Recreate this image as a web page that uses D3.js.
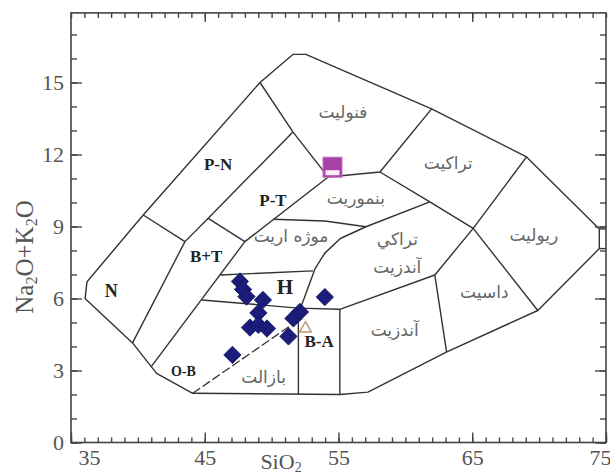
<!DOCTYPE html>
<html>
<head>
<meta charset="utf-8">
<script src="https://cdn.jsdelivr.net/npm/d3@7"></script>
<style>
  html, body { margin: 0; padding: 0; background: #fff; }
  svg { display: block; }
</style>
</head>
<body>
<svg id="chart" width="610" height="475"></svg>
<script>
// Axis ticks
const xTicks = [35, 45, 55, 65, 75];
const yTicks = [0, 3, 6, 9, 12, 15];

// Outer boundary of the classification field (SiO2, Na2O+K2O)
const outline = [
  [49.13, 15.0], [40.4, 9.48], [36.2, 6.7], [36.05, 6.0], [39.6, 4.15],
  [41.0, 3.16], [41.4, 2.88], [44.1, 2.05], [55.1, 2.0], [57.2, 2.1],
  [63.1, 3.78], [69.9, 5.5], [74.5, 8.08], [74.5, 8.9], [69.06, 11.9],
  [61.96, 13.9], [52.56, 16.17], [51.59, 16.17]
];

// Internal field boundaries
const boundaries = [
  [[40.4, 9.48], [43.52, 8.37]],
  [[43.52, 8.37], [39.6, 4.15]],
  [[43.52, 8.37], [45.26, 9.34], [51.59, 12.94]],
  [[49.13, 15.0], [51.59, 12.94], [54.23, 11.06]],
  [[45.26, 9.34], [48.0, 8.37]],
  [[48.0, 8.37], [54.23, 11.06]],
  [[48.0, 8.37], [41.0, 3.16]],
  [[54.23, 11.06], [58.1, 11.27], [61.96, 13.9]],
  [[58.1, 11.27], [61.83, 10.03], [65.07, 8.92]],
  [[65.07, 8.92], [69.06, 11.9]],
  [[65.07, 8.92], [69.9, 5.5]],
  [[65.07, 8.92], [62.2, 6.98], [63.08, 3.78]],
  [[62.2, 6.98], [55.1, 5.55], [52.0, 5.6], [44.79, 5.94]],
  [[52.0, 5.6], [52.0, 2.0]],
  [[55.1, 5.55], [55.1, 2.0]],
  [[46.17, 6.98], [53.1, 7.15]],
  [[52.15, 5.58], [53.24, 7.23], [53.96, 7.88], [55.14, 8.5], [57.05, 8.99], [61.83, 10.03]],
  [[50.1, 9.3], [53.98, 9.23], [57.05, 8.99]],
  [[74.5, 8.9], [75, 8.9]],
  [[74.5, 8.08], [75, 8.08]]
];
const dashedBoundary = [[44.1, 2.05], [52.0, 5.1]];

// Field names
const fieldLabels = [
  { t: "N", x: 38.0, y: 6.3, bold: true, size: 18 },
  { t: "P-N", x: 46.0, y: 11.6, bold: true, size: 17 },
  { t: "P-T", x: 50.1, y: 10.1, bold: true, size: 17 },
  { t: "B+T", x: 45.1, y: 7.75, bold: true, size: 17 },
  { t: "H", x: 51.0, y: 6.5, bold: true, size: 21 },
  { t: "B-A", x: 53.55, y: 4.2, bold: true, size: 17 },
  { t: "O-B", x: 43.4, y: 2.95, bold: true, size: 14 },
  { t: "بازالت", x: 49.4, y: 2.75 },
  { t: "موژه اریت", x: 51.45, y: 8.6 },
  { t: "بنموریت", x: 56.3, y: 10.2 },
  { t: "فنولیت", x: 55.33, y: 13.78 },
  { t: "تراکیت", x: 63.2, y: 11.63 },
  { t: "ریولیت", x: 69.6, y: 8.65 },
  { t: "تراکي", x: 59.4, y: 8.5 },
  { t: "آندزیت", x: 59.4, y: 7.3 },
  { t: "داسیت", x: 65.9, y: 6.28 },
  { t: "آندزیت", x: 59.2, y: 4.69 }
];

// Samples
const sampleSiO2 = [47.63, 47.86, 48.12, 49.35, 49.01, 48.38, 49.01, 49.65, 51.63, 52.12, 51.26, 47.07, 53.98];
const sampleAlk  = [6.71, 6.38, 6.08, 5.94, 5.40, 4.79, 4.90, 4.75, 5.17, 5.44, 4.42, 3.65, 6.06];
const squareSample = [54.55, 11.47];
const triangleSample = [52.53, 4.75];

const svg = d3.select("#chart");
const x = d3.scaleLinear().domain([35, 75]).range([71, 606]);
const y = d3.scaleLinear().domain([0, 15]).range([442.5, 82.5]);
const yMax = 17.9;

const line = d3.line().x(d => x(d[0])).y(d => y(d[1]));
const ink = "#333";

// Field boundaries
svg.append("path")
  .attr("d", line(outline) + "Z")
  .attr("fill", "none").attr("stroke", ink).attr("stroke-width", 1.4)
  .attr("stroke-linejoin", "round");
svg.append("g").selectAll("path").data(boundaries).join("path")
  .attr("d", d => line(d))
  .attr("fill", "none").attr("stroke", ink).attr("stroke-width", 1.4)
  .attr("stroke-linejoin", "round");
svg.append("path")
  .attr("d", line(dashedBoundary))
  .attr("fill", "none").attr("stroke", ink).attr("stroke-width", 1.3)
  .attr("stroke-dasharray", "9,3");

// Frame and ticks
const x0 = x(35), x1 = x(75), y0 = y(0), y1 = y(yMax);
svg.append("rect").attr("x", x0).attr("y", y1).attr("width", x1 - x0).attr("height", y0 - y1)
  .attr("fill", "none").attr("stroke", "#444").attr("stroke-width", 1.6);

const minorX = d3.range(35, 76, 1);
const minorY = d3.range(0, 18, 1);
function tickStyle(g) {
  g.select(".domain").remove();
  g.selectAll(".tick line").attr("stroke", "#444").attr("stroke-width", 1.4);
}
// minor ticks
svg.append("g").attr("transform", `translate(0,${y0})`)
  .call(d3.axisBottom(x).tickValues(minorX).tickSize(-5).tickFormat(""))
  .call(tickStyle);
svg.append("g").attr("transform", `translate(0,${y1})`)
  .call(d3.axisTop(x).tickValues(minorX).tickSize(-5).tickFormat(""))
  .call(tickStyle);
svg.append("g").attr("transform", `translate(${x0},0)`)
  .call(d3.axisLeft(y).tickValues(minorY).tickSize(-6).tickFormat(""))
  .call(tickStyle);
svg.append("g").attr("transform", `translate(${x1},0)`)
  .call(d3.axisRight(y).tickValues(minorY).tickSize(-6).tickFormat(""))
  .call(tickStyle);
// major ticks with labels
const labelFont = "'Liberation Serif', 'Times New Roman', serif";
const gx = svg.append("g").attr("transform", `translate(0,${y0})`)
  .call(d3.axisBottom(x).tickValues(xTicks).tickSize(-10).tickPadding(7).tickFormat(d3.format("d")))
  .call(tickStyle);
gx.selectAll("text").attr("font-family", labelFont).attr("font-size", 22).attr("fill", "#555")
  .attr("text-anchor", (d, i) => i === 0 ? "start" : (i === xTicks.length - 1 ? "end" : "middle"))
  .attr("dx", (d, i) => i === 0 ? 7 : (i === xTicks.length - 1 ? 5 : 0));
svg.append("g").attr("transform", `translate(0,${y1})`)
  .call(d3.axisTop(x).tickValues(xTicks.slice(1, -1)).tickSize(-9).tickFormat(""))
  .call(tickStyle);
const gy = svg.append("g").attr("transform", `translate(${x0},0)`)
  .call(d3.axisLeft(y).tickValues(yTicks).tickSize(-11).tickPadding(7).tickFormat(d3.format("d")))
  .call(tickStyle);
gy.selectAll("text").attr("font-family", labelFont).attr("font-size", 22).attr("fill", "#555");
svg.append("g").attr("transform", `translate(${x1},0)`)
  .call(d3.axisRight(y).tickValues(yTicks).tickSize(-11).tickFormat(""))
  .call(tickStyle);

// Axis titles
const xt = svg.append("text").attr("x", 281).attr("y", 469)
  .attr("text-anchor", "middle").attr("font-family", labelFont).attr("font-size", 22).attr("fill", "#555");
xt.append("tspan").text("SiO");
xt.append("tspan").text("2").attr("font-size", 14).attr("dy", 3);

const yt = svg.append("text").attr("transform", "translate(33,257) rotate(-90)")
  .attr("text-anchor", "middle").attr("font-family", labelFont).attr("font-size", 25).attr("fill", "#555");
yt.append("tspan").text("Na");
yt.append("tspan").text("2").attr("font-size", 16).attr("dy", 4);
yt.append("tspan").text("O+K").attr("dy", -4);
yt.append("tspan").text("2").attr("font-size", 16).attr("dy", 4);
yt.append("tspan").text("O").attr("dy", -4);

// Field names
svg.append("g").selectAll("text").data(fieldLabels).join("text")
  .attr("x", d => x(d.x)).attr("y", d => y(d.y))
  .attr("text-anchor", "middle").attr("dominant-baseline", "central")
  .attr("font-family", d => d.bold ? labelFont : "'DejaVu Sans', sans-serif")
  .attr("font-weight", d => d.bold ? "bold" : "normal")
  .attr("font-size", d => d.bold ? d.size : 17)
  .attr("fill", d => d.bold ? "#222" : "#666")
  .text(d => d.t);

// Triangle sample
svg.append("path")
  .attr("transform", `translate(${x(triangleSample[0])},${y(triangleSample[1])})`)
  .attr("d", d3.symbol(d3.symbolTriangle, 60)())
  .attr("fill", "#fff").attr("stroke", "#c09878").attr("stroke-width", 1.5);

// Diamond samples
const samples = sampleSiO2.map((s, i) => [s, sampleAlk[i]]);
svg.append("g").selectAll("path").data(samples).join("path")
  .attr("transform", d => `translate(${x(d[0])},${y(d[1])}) rotate(45)`)
  .attr("d", d3.symbol(d3.symbolSquare, 150)())
  .attr("fill", "#1c1c7a").attr("stroke", "#14145e").attr("stroke-width", 0.8);

// Square sample
const sq = svg.append("g")
  .attr("transform", `translate(${x(squareSample[0])},${y(squareSample[1])})`);
sq.append("rect").attr("x", -9.5).attr("y", -10).attr("width", 19).attr("height", 20)
  .attr("fill", "#a740a7").attr("stroke", "#c070c0").attr("stroke-width", 1);
sq.append("rect").attr("x", -7).attr("y", 3).attr("width", 14).attr("height", 5)
  .attr("fill", "#fbeefb");
</script>
</body>
</html>
